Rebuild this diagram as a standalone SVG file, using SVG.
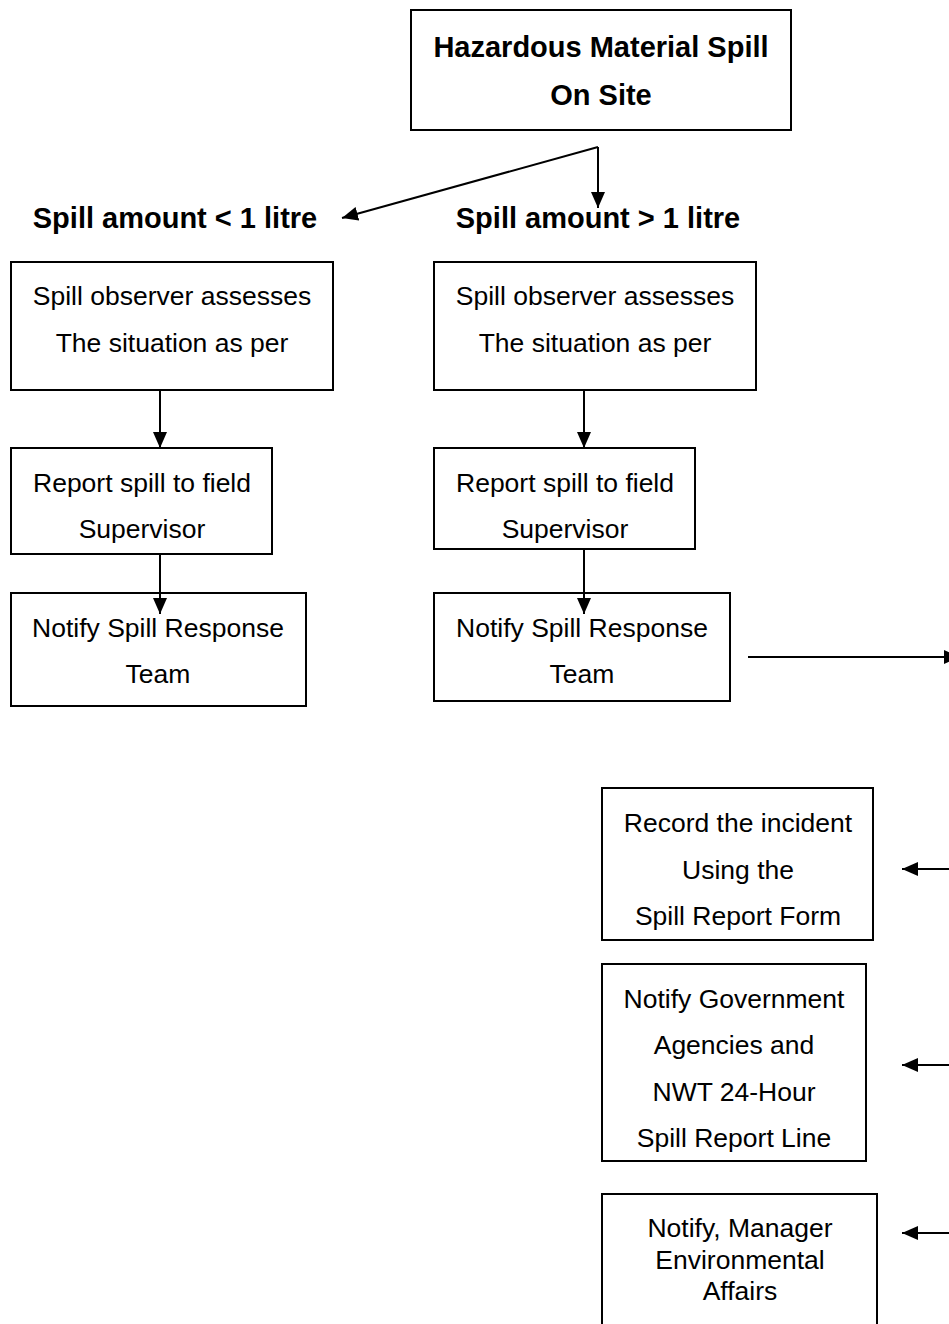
<svg xmlns="http://www.w3.org/2000/svg" width="949" height="1324" viewBox="0 0 949 1324">
<defs>
<style>
.box{fill:#fff;stroke:#000;stroke-width:2}
.t{font-family:"Liberation Sans",Arial,sans-serif;font-size:26.5px;fill:#000;text-anchor:middle}
.b{font-family:"Liberation Sans",Arial,sans-serif;font-size:29px;font-weight:bold;fill:#000;text-anchor:middle}
.c{stroke:#000;stroke-width:2;fill:none}
.ah{fill:#000}
</style>
<marker id="arr" viewBox="0 0 16 14" refX="16" refY="7" markerWidth="16" markerHeight="14" markerUnits="userSpaceOnUse" orient="auto">
<path d="M0,0 L16,7 L0,14 Z" class="ah"/>
</marker>
</defs>
<rect width="949" height="1324" fill="#fff"/>

<g id="top">
<rect class="box" x="411" y="10" width="380" height="120"/>
<text class="b" x="601" y="57">Hazardous Material Spill</text>
<text class="b" x="601" y="105">On Site</text>
</g>

<g id="label-small">
<text class="b" x="175" y="228">Spill amount &lt; 1 litre</text>
</g>
<g id="label-large">
<text class="b" x="598" y="228">Spill amount &gt; 1 litre</text>
</g>

<g id="l1">
<rect class="box" x="11" y="262" width="322" height="128"/>
<text class="t" x="172" y="305">Spill observer assesses</text>
<text class="t" x="172" y="352">The situation as per</text>
</g>
<g id="l2">
<rect class="box" x="11" y="448" width="261" height="106"/>
<text class="t" x="142" y="492">Report spill to field</text>
<text class="t" x="142" y="538">Supervisor</text>
</g>
<g id="l3">
<rect class="box" x="11" y="593" width="295" height="113"/>
<text class="t" x="158" y="637">Notify Spill Response</text>
<text class="t" x="158" y="683">Team</text>
</g>

<g id="r1">
<rect class="box" x="434" y="262" width="322" height="128"/>
<text class="t" x="595" y="305">Spill observer assesses</text>
<text class="t" x="595" y="352">The situation as per</text>
</g>
<g id="r2">
<rect class="box" x="434" y="448" width="261" height="101"/>
<text class="t" x="565" y="492">Report spill to field</text>
<text class="t" x="565" y="538">Supervisor</text>
</g>
<g id="r3">
<rect class="box" x="434" y="593" width="296" height="108"/>
<text class="t" x="582" y="637">Notify Spill Response</text>
<text class="t" x="582" y="683">Team</text>
</g>

<g id="record">
<rect class="box" x="602" y="788" width="271" height="152"/>
<text class="t" x="738" y="832">Record the incident</text>
<text class="t" x="738" y="879">Using the</text>
<text class="t" x="738" y="925">Spill Report Form</text>
</g>
<g id="gov">
<rect class="box" x="602" y="964" width="264" height="197"/>
<text class="t" x="734" y="1008">Notify Government</text>
<text class="t" x="734" y="1054">Agencies and</text>
<text class="t" x="734" y="1101">NWT 24-Hour</text>
<text class="t" x="734" y="1147">Spill Report Line</text>
</g>
<g id="manager">
<rect class="box" x="602" y="1194" width="275" height="140"/>
<text class="t" x="740" y="1237">Notify, Manager</text>
<text class="t" x="740" y="1269">Environmental</text>
<text class="t" x="740" y="1300">Affairs</text>
</g>

<g id="connectors">
<path class="c" d="M598,147 L598,208" marker-end="url(#arr)"/>
<path class="c" d="M598,147 L342,218" marker-end="url(#arr)"/>
<path class="c" d="M160,390 L160,448" marker-end="url(#arr)"/>
<path class="c" d="M160,554 L160,614" marker-end="url(#arr)"/>
<path class="c" d="M584,390 L584,448" marker-end="url(#arr)"/>
<path class="c" d="M584,549 L584,614" marker-end="url(#arr)"/>
<path class="c" d="M748,657 L960,657" marker-end="url(#arr)"/>
<path class="c" d="M949,869 L902,869" marker-end="url(#arr)"/>
<path class="c" d="M949,1065 L902,1065" marker-end="url(#arr)"/>
<path class="c" d="M949,1233 L902,1233" marker-end="url(#arr)"/>
</g>
</svg>
